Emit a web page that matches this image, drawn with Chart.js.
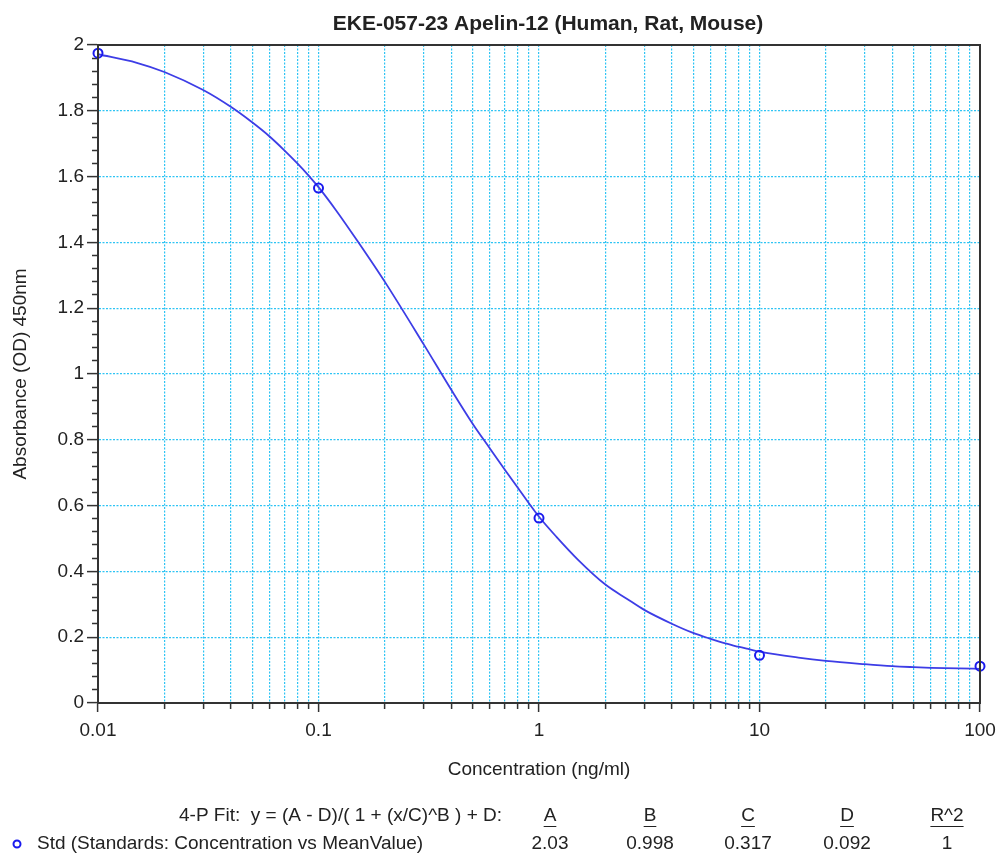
<!DOCTYPE html>
<html>
<head>
<meta charset="utf-8">
<title>EKE-057-23 Apelin-12</title>
<script src="https://cdn.jsdelivr.net/npm/chart.js@4.4.1/dist/chart.umd.min.js"></script>
<style>
  html, body { margin: 0; padding: 0; background: #fff; }
  #wrap { width: 1000px; height: 854px; }
</style>
</head>
<body>
<div id="wrap"><canvas id="curveChart" width="1000" height="854"></canvas></div>
<script>
const chartTitle = "EKE-057-23 Apelin-12 (Human, Rat, Mouse)";
const xTitle = "Concentration (ng/ml)";
const yTitle = "Absorbance (OD) 450nm";

// standards (open circles)
const stdConc = [0.01, 0.1, 1, 10, 100];
const stdOD = [1.975, 1.565, 0.562, 0.145, 0.112];

// fitted curve, values
const curveConc = [0.01, 0.015, 0.02, 0.03, 0.04, 0.05, 0.06, 0.07, 0.08, 0.09,
  0.1, 0.12, 0.15, 0.2, 0.3, 0.4, 0.5, 0.6, 0.7, 0.8, 0.9,
  1, 1.2, 1.5, 2, 2.5, 3, 4, 5, 6, 7, 8, 9,
  10, 15, 20, 30, 40, 50, 60, 80, 100];
const curveOD = [1.972, 1.946, 1.918, 1.863, 1.812, 1.765, 1.722, 1.68, 1.641, 1.604,
  1.568, 1.498, 1.405, 1.28, 1.09, 0.952, 0.849, 0.773, 0.709, 0.655, 0.607,
  0.566, 0.505, 0.436, 0.36, 0.317, 0.283, 0.241, 0.213, 0.195, 0.181, 0.171, 0.163,
  0.156, 0.138, 0.128, 0.118, 0.112, 0.109, 0.107, 0.105, 0.104];

// axis ticks
const xTicks = [0.01, 0.02, 0.03, 0.04, 0.05, 0.06, 0.07, 0.08, 0.09,
  0.1, 0.2, 0.3, 0.4, 0.5, 0.6, 0.7, 0.8, 0.9,
  1, 2, 3, 4, 5, 6, 7, 8, 9,
  10, 20, 30, 40, 50, 60, 70, 80, 90, 100];
const xTickLabels = ["0.01", "0.1", "1", "10", "100"];
const yMin = 0, yMax = 2, yMinorStep = 0.04, yMajorStep = 0.2;

// fit table under the chart
const fitHeader = "4-P Fit:  y = (A - D)/( 1 + (x/C)^B ) + D:";
const fitNames = ["A", "B", "C", "D", "R^2"];
const fitValues = ["2.03", "0.998", "0.317", "0.092", "1"];
const seriesName = "Std (Standards: Concentration vs MeanValue)";

const FONT = "'Liberation Sans', Arial, sans-serif";
const TEXT = "#222";
const GRID = "#2ec4f4";
const AXIS = "#333";

function isMajorY(v) {
  return Math.round(v * 100) % Math.round(yMajorStep * 100) === 0;
}
function isDecade(v) {
  return xTickLabels.includes(String(v));
}

// title, plot box and the fit table
const decorPlugin = {
  id: "decor",
  afterDraw(chart) {
    const ctx = chart.ctx;
    const a = chart.chartArea;
    ctx.save();
    ctx.strokeStyle = AXIS;
    ctx.lineWidth = 2;
    ctx.strokeRect(a.left, a.top, a.right - a.left, a.bottom - a.top);

    ctx.fillStyle = TEXT;
    ctx.textBaseline = "middle";
    ctx.font = "bold 21px " + FONT;
    ctx.textAlign = "center";
    ctx.fillText(chartTitle, 548, 24);

    ctx.font = "19px " + FONT;
    ctx.textAlign = "right";
    ctx.fillText(fitHeader, 502, 816);

    const cols = [550, 650, 748, 847, 947];
    ctx.textAlign = "center";
    ctx.lineWidth = 1;
    ctx.strokeStyle = TEXT;
    fitNames.forEach((n, i) => {
      ctx.fillText(n, cols[i], 816);
      const w = ctx.measureText(n).width;
      ctx.beginPath();
      ctx.moveTo(cols[i] - w / 2, 826.5);
      ctx.lineTo(cols[i] + w / 2, 826.5);
      ctx.stroke();
      ctx.fillText(fitValues[i], cols[i], 844);
    });

    ctx.textAlign = "left";
    ctx.fillText(seriesName, 37, 844);
    ctx.strokeStyle = "#1a1aee";
    ctx.lineWidth = 2;
    ctx.beginPath();
    ctx.arc(17, 844, 3.5, 0, Math.PI * 2);
    ctx.stroke();
    ctx.restore();
  }
};

new Chart(document.getElementById("curveChart"), {
  type: "line",
  data: {
    datasets: [
      {
        label: seriesName,
        type: "scatter",
        data: stdConc.map((x, i) => ({ x, y: stdOD[i] })),
        showLine: false,
        pointStyle: "circle",
        pointRadius: 4.5,
        pointBorderWidth: 2,
        borderColor: "#1a1aee",
        backgroundColor: "rgba(255,255,255,0)",
        clip: false,
      },
      {
        label: "4-P Fit",
        data: curveConc.map((x, i) => ({ x, y: curveOD[i] })),
        borderColor: "#3d3de6",
        borderWidth: 1.8,
        pointRadius: 0,
        cubicInterpolationMode: "monotone",
        fill: false,
      },
    ],
  },
  options: {
    responsive: false,
    animation: false,
    devicePixelRatio: 1,
    layout: { padding: { top: 45, right: 20, bottom: 71, left: 0 } },
    plugins: {
      legend: { display: false },
      title: { display: false },
      tooltip: { enabled: false },
    },
    scales: {
      x: {
        type: "logarithmic",
        min: 0.01,
        max: 100,
        afterBuildTicks: (scale) => {
          scale.ticks = xTicks.map((v) => ({ value: v }));
        },
        afterFit: (scale) => {
          scale.height = 80;
          scale.paddingLeft = 0;
          scale.paddingRight = 0;
        },
        ticks: {
          autoSkip: false,
          maxRotation: 0,
          padding: 7,
          color: TEXT,
          font: { family: FONT, size: 19 },
          callback: (v) => (isDecade(v) ? String(v) : ""),
        },
        grid: {
          color: GRID,
          lineWidth: 1.2,
          tickColor: AXIS,
          tickLength: 9,
          tickWidth: 1.5,
          // minor ticks shorter than the decade ticks (drawn from the axis outward)
          tickBorderDash: (c) => (c.tick && isDecade(c.tick.value) ? [] : [5, 30]),
        },
        border: { color: AXIS, width: 2, dash: [2, 1.5] },
        title: {
          display: true,
          text: xTitle,
          color: TEXT,
          font: { family: FONT, size: 19 },
          padding: { top: 0, bottom: 2 },
        },
      },
      y: {
        type: "linear",
        min: yMin,
        max: yMax,
        afterFit: (scale) => { scale.width = 98; },
        ticks: {
          stepSize: yMinorStep,
          autoSkip: false,
          padding: 3,
          color: TEXT,
          font: { family: FONT, size: 19 },
          callback: (v) => (isMajorY(v) ? String(Math.round(v * 100) / 100) : ""),
        },
        grid: {
          color: (c) => (c.tick && isMajorY(c.tick.value) ? GRID : "rgba(0,0,0,0)"),
          lineWidth: 1.2,
          tickColor: AXIS,
          tickLength: 11,
          tickWidth: 1.5,
          // left ticks are drawn from the outer end in, so skip the first 5px
          tickBorderDash: (c) => (c.tick && isMajorY(c.tick.value) ? [] : [0, 5, 6, 30]),
        },
        border: { color: AXIS, width: 2, dash: [2, 1.5] },
        title: {
          display: true,
          text: yTitle,
          color: TEXT,
          font: { family: FONT, size: 19 },
          padding: { top: 9, bottom: 0 },
        },
      },
    },
  },
  plugins: [decorPlugin],
});
</script>
</body>
</html>
